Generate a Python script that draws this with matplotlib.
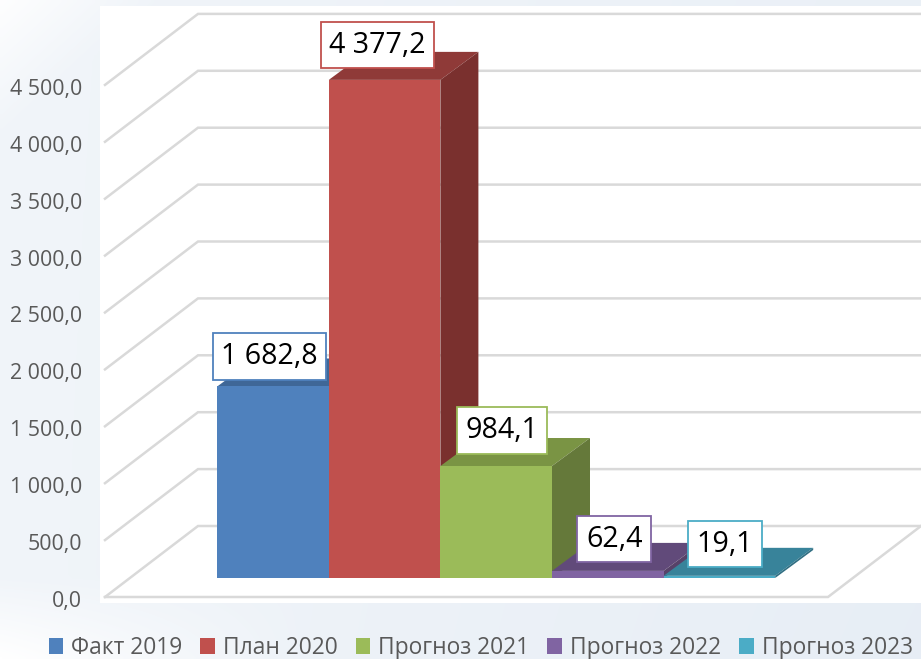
import numpy as np
import matplotlib
matplotlib.use("Agg")
import matplotlib.pyplot as plt
from matplotlib.patches import Patch, Rectangle
from matplotlib.transforms import ScaledTranslation

categories = ["Факт 2019", "План 2020", "Прогноз 2021", "Прогноз 2022", "Прогноз 2023"]
values = [1682.8, 4377.2, 984.1, 62.4, 19.1]
value_labels = ["1 682,8", "4 377,2", "984,1", "62,4", "19,1"]
tick_values = [0, 500, 1000, 1500, 2000, 2500, 3000, 3500, 4000, 4500]
tick_labels = ["0,0", "500,0", "1 000,0", "1 500,0", "2 000,0", "2 500,0",
               "3 000,0", "3 500,0", "4 000,0", "4 500,0"]

front_colors = ["#4f81bd", "#c0504d", "#9bbb59", "#8064a2", "#4bacc6"]
top_colors = ["#3f6797", "#8f3a38", "#7a9444", "#614a7a", "#38839a"]
side_colors = ["#3a5f8b", "#7a302e", "#65793a", "#574269", "#316f83"]
label_offsets_px = [(-3.5, 30), (-7, 34.5), (6, 35.5), (6.5, 31.5), (5.5, 31.5)]

W, H = 921, 659
DPI = 100
plt.rcParams["font.family"] = ["Open Sans", "DejaVu Sans"]
fig = plt.figure(figsize=(W / DPI, H / DPI), dpi=DPI)

# background
bg = fig.add_axes([0, 0, 1, 1], zorder=0)
yy, xx = np.mgrid[0:1:160j, 0:1:220j]
shade = 0.045 + 0.03 * xx * yy + 0.02 * xx * (1 - yy)
shade -= 0.04 * np.clip(1 - (xx * 6 + yy * 5), 0, 1)
shade -= 0.045 * np.clip((yy - 0.88) / 0.12, 0, 1) * np.clip(1 - xx * 3, 0, 1)
shade = np.clip(shade, 0, 1)
rgb = np.dstack([1 - shade * 1.25, 1 - shade * 0.9, 1 - shade * 0.5])
bg.imshow(np.clip(rgb, 0, 1), extent=(0, W, H, 0), aspect="auto", interpolation="bilinear")
bg.add_patch(Rectangle((100, 6), W - 100, 597, fc="white", ec="none"))
bg.set_xlim(0, W)
bg.set_ylim(H, 0)
bg.axis("off")

# scales: pixels per unit
PX_X = 111.6
PX_Y = 56.9 / 500
Y0_PX = 597.0
LEFT_PX = 105.0
X0_PX = 273.0

ax = fig.add_axes([LEFT_PX / W, (H - Y0_PX) / H, (W - LEFT_PX) / W, Y0_PX / H], zorder=1)
ax.patch.set_alpha(0)
ax.set_xlim((LEFT_PX - X0_PX) / PX_X, (W - X0_PX) / PX_X)
ax.set_ylim(0, Y0_PX / PX_Y)
for s in ax.spines.values():
    s.set_visible(False)
ax.set_xticks([])
ax.set_yticks(tick_values)
ax.set_yticklabels(tick_labels, fontsize=15.4, color="#595959")
ax.tick_params(axis="y", length=0, pad=16.5)
shift = ScaledTranslation(0, -2 / DPI, fig.dpi_scale_trans)
for lab in ax.get_yticklabels():
    lab.set_clip_on(False)
    lab.set_transform(lab.get_transform() + shift)

wall_dx = 93 / PX_X
wall_dy = 71 / PX_Y
bar_dx = 38 / PX_X
bar_dy = 28 / PX_Y
base = 19 / PX_Y
xl = ax.get_xlim()[0]
xr = (828 - X0_PX) / PX_X
grid_kw = dict(color="#d9d9d9", lw=1.8, solid_joinstyle="miter", clip_on=False, zorder=1)

for t in tick_values:
    ax.plot([xl, xl + wall_dx, ax.get_xlim()[1]], [t, t + wall_dy, t + wall_dy], **grid_kw)
ax.plot([xl, xr, xr + wall_dx], [0, 0, wall_dy], **grid_kw)

centers = np.arange(len(values))
ax.bar(centers, values, width=1.0, bottom=base, color=front_colors, linewidth=0, zorder=3)
for i, (c, v) in enumerate(zip(centers, values)):
    l, r = c - 0.5, c + 0.5
    top = base + v
    ax.fill([l, r, r + bar_dx, l + bar_dx], [top, top, top + bar_dy, top + bar_dy],
            color=top_colors[i], lw=0, zorder=2.5 + i * 0.01)
    ax.fill([r, r + bar_dx, r + bar_dx, r], [base, base + bar_dy, top + bar_dy, top],
            color=side_colors[i], lw=0, zorder=2.5 + i * 0.01)

for i, (c, v) in enumerate(zip(centers, values)):
    dx, dy = label_offsets_px[i]
    ax.annotate(value_labels[i], xy=(c, base + v),
                xytext=(dx * 72 / DPI, dy * 72 / DPI), textcoords="offset points",
                ha="center", va="center", fontsize=20.6, color="black", zorder=6,
                bbox=dict(boxstyle="square,pad=0.3", fc="white", ec=front_colors[i], lw=1.3),
                annotation_clip=False)

handles = [Patch(fc=c, ec="none") for c in front_colors]
fig.legend(handles, categories, loc="center", bbox_to_anchor=(0.522, (H - 648) / H), ncol=5,
           frameon=False, fontsize=16.4, labelcolor="#595959", handlelength=0.65, handleheight=0.65,
           handletextpad=0.35, columnspacing=0.78, borderpad=0, borderaxespad=0)

fig.savefig("out.png", dpi=DPI)
